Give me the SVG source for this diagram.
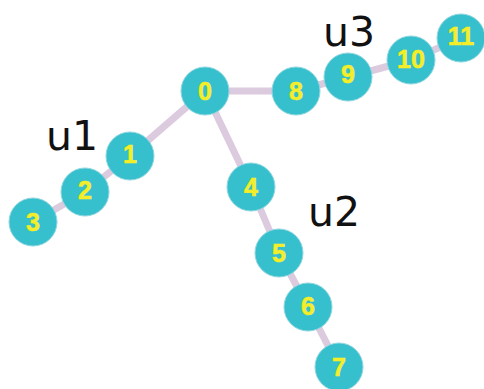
<svg xmlns="http://www.w3.org/2000/svg" width="484" height="389" viewBox="0 0 484 389">
  <style>
    .edge { stroke: #dccadf; stroke-width: 7; stroke-linecap: round; fill: none; }
    .node circle { fill: #36bfcd; stroke: #8fd6df; stroke-width: 1; }
    .node text { fill: #f4ee2a; stroke: #f4ee2a; stroke-width: 0.6; font-family: "Liberation Sans", Arial, sans-serif; font-weight: bold; font-size: 25px; text-anchor: middle; dominant-baseline: central; }
    .tag { fill: #111; font-family: "DejaVu Sans", sans-serif; font-size: 41px; }
  </style>
  <rect width="484" height="389" fill="#ffffff"/>
  <g id="edges">
    <line class="edge" x1="205" y1="91" x2="130" y2="156"/>
    <line class="edge" x1="130" y1="156" x2="85" y2="192"/>
    <line class="edge" x1="85" y1="192" x2="33" y2="222"/>
    <line class="edge" x1="205" y1="91" x2="296" y2="91"/>
    <line class="edge" x1="296" y1="91" x2="348" y2="77"/>
    <line class="edge" x1="348" y1="77" x2="411" y2="60"/>
    <line class="edge" x1="411" y1="60" x2="461" y2="38"/>
    <line class="edge" x1="205" y1="91" x2="251" y2="187"/>
    <line class="edge" x1="251" y1="187" x2="279" y2="253"/>
    <line class="edge" x1="279" y1="253" x2="308" y2="307"/>
    <line class="edge" x1="308" y1="307" x2="339" y2="367"/>
  </g>
  <g id="n0" class="node"><circle cx="205" cy="91" r="24"/><text x="205" y="91">0</text></g>
  <g id="n1" class="node"><circle cx="130" cy="156" r="24"/><text x="130" y="154">1</text></g>
  <g id="n2" class="node"><circle cx="85" cy="192" r="24"/><text x="85" y="190">2</text></g>
  <g id="n3" class="node"><circle cx="33" cy="222" r="24"/><text x="33" y="222">3</text></g>
  <g id="n4" class="node"><circle cx="251" cy="187" r="24"/><text x="251" y="187">4</text></g>
  <g id="n5" class="node"><circle cx="279" cy="253" r="24"/><text x="279" y="253">5</text></g>
  <g id="n6" class="node"><circle cx="308" cy="307" r="24"/><text x="308" y="306">6</text></g>
  <g id="n7" class="node"><circle cx="339" cy="367" r="24"/><text x="339" y="367">7</text></g>
  <g id="n8" class="node"><circle cx="296" cy="91" r="24"/><text x="296" y="91">8</text></g>
  <g id="n9" class="node"><circle cx="348" cy="77" r="24"/><text x="348" y="74">9</text></g>
  <g id="n10" class="node"><circle cx="411" cy="60" r="24"/><text x="411" y="59">10</text></g>
  <g id="n11" class="node"><circle cx="461" cy="38" r="24"/><text x="461" y="36">11</text></g>
  <g id="labels">
    <text class="tag" x="46" y="150">u1</text>
    <text class="tag" x="308" y="226">u2</text>
    <text class="tag" x="323" y="46">u3</text>
  </g>
</svg>
